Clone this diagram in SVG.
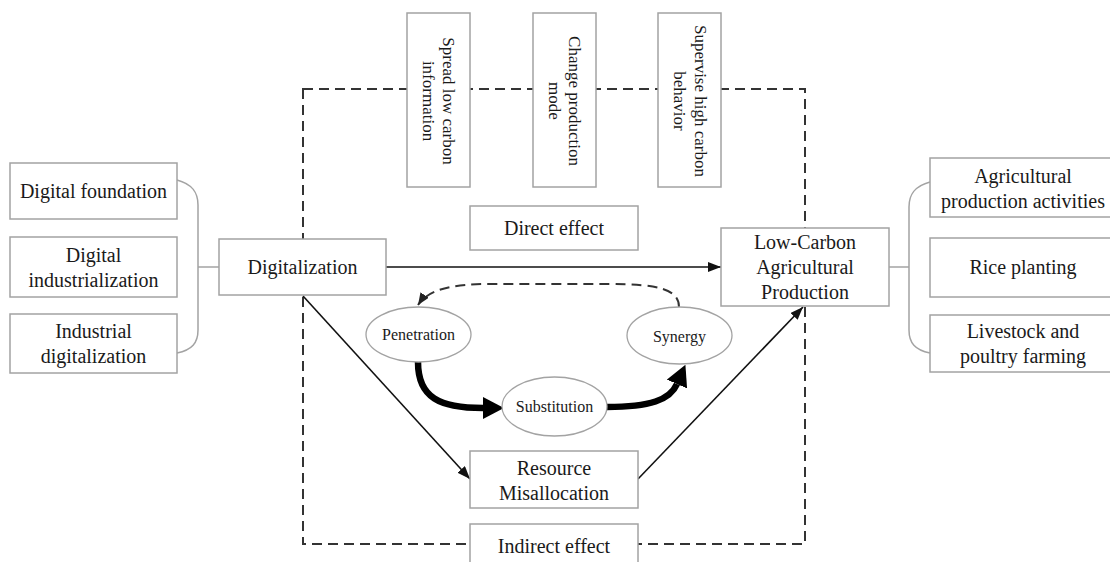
<svg xmlns="http://www.w3.org/2000/svg" width="1110" height="562" viewBox="0 0 1110 562">
<style>
text{font-family:"Liberation Serif","Times New Roman",serif;fill:#1a1a1a;text-anchor:middle;dominant-baseline:central}
.box{fill:#fff;stroke:#a3a3a3;stroke-width:1.5}
.ell{fill:#fff;stroke:#a3a3a3;stroke-width:1.3}
.t20{font-size:20px}
.t17{font-size:17px}
.t16{font-size:16px}
.ln{fill:none;stroke:#111;stroke-width:1.6}
.br{fill:none;stroke:#a3a3a3;stroke-width:1.5}
.dash{fill:none;stroke:#333;stroke-width:2;stroke-dasharray:10,6}
.thick{fill:none;stroke:#000;stroke-width:6.5}
</style>
<defs>
<marker id="ah" markerUnits="userSpaceOnUse" markerWidth="13" markerHeight="10" refX="13" refY="5" orient="auto">
<path d="M0,0 L13,5 L0,10 z" fill="#111"/>
</marker>
<marker id="ahd" markerUnits="userSpaceOnUse" markerWidth="12" markerHeight="10" refX="12" refY="5" orient="auto">
<path d="M0,0 L12,5 L0,10 z" fill="#222"/>
</marker>
<marker id="ahb" markerUnits="userSpaceOnUse" markerWidth="21" markerHeight="22" refX="0" refY="11" orient="auto">
<path d="M0,0 L21,11 L0,22 z" fill="#000"/>
</marker>
</defs>
<rect width="1110" height="562" fill="#fff"/>

<g id="connectors">
<rect class="dash" x="303" y="89" width="502" height="455"/>
<path class="br" d="M177,180 C192,184 198,192 198,205 L198,330 C198,343 192,350 177,353"/>
<path class="br" d="M198,267 L219,267"/>
<path class="br" d="M930,182 C915,186 909,194 909,207 L909,330 C909,343 915,350 930,353"/>
<path class="br" d="M889,267 L909,267"/>
<path class="ln" d="M386,267 L721,267" marker-end="url(#ah)"/>
<path class="ln" d="M303,296 L470,479" marker-end="url(#ah)"/>
<path class="ln" d="M638,479 L803,307" marker-end="url(#ah)"/>
<path class="dash" d="M679,307 C679,290 660,284 610,284 L490,284 C450,284 428,290 418,305" marker-end="url(#ahd)"/>
<path class="thick" d="M418,362 C418,398 440,408 483,408" marker-end="url(#ahb)"/>
<path class="thick" d="M607,407 C650,407 670,400 677,384" marker-end="url(#ahb)"/>
</g>

<g id="digital-foundation"><rect class="box" x="10" y="163" width="167" height="56"/><text class="t20" x="93.5" y="191">Digital foundation</text></g>
<g id="digital-industrialization"><rect class="box" x="10" y="237" width="167" height="60"/><text class="t20" x="93.5" y="255">Digital</text><text class="t20" x="93.5" y="280">industrialization</text></g>
<g id="industrial-digitalization"><rect class="box" x="10" y="314" width="167" height="59"/><text class="t20" x="93.5" y="331">Industrial</text><text class="t20" x="93.5" y="356">digitalization</text></g>

<g id="digitalization"><rect class="box" x="219" y="239" width="167" height="56"/><text class="t20" x="302.5" y="267">Digitalization</text></g>

<g id="spread"><rect class="box" x="407" y="13" width="63" height="174"/>
<g transform="translate(438.5,101) rotate(90)"><text class="t17" x="0" y="-10">Spread low carbon</text><text class="t17" x="0" y="10">information</text></g></g>
<g id="change"><rect class="box" x="533" y="13" width="63" height="174"/>
<g transform="translate(564.5,101) rotate(90)"><text class="t17" x="0" y="-10">Change production</text><text class="t17" x="0" y="10">mode</text></g></g>
<g id="supervise"><rect class="box" x="658" y="13" width="63" height="174"/>
<g transform="translate(689.5,101) rotate(90)"><text class="t17" x="0" y="-11">Supervise high carbon</text><text class="t17" x="0" y="10">behavior</text></g></g>

<g id="direct-effect"><rect class="box" x="470" y="206" width="168" height="44"/><text class="t20" x="554" y="228">Direct effect</text></g>

<g id="lcap"><rect class="box" x="721" y="228" width="168" height="78"/><text class="t20" x="805" y="242">Low-Carbon</text><text class="t20" x="805" y="267">Agricultural</text><text class="t20" x="805" y="292">Production</text></g>

<g id="agri-activities"><rect class="box" x="930" y="158" width="190" height="59"/><text class="t20" x="1023" y="176">Agricultural</text><text class="t20" x="1023" y="201">production activities</text></g>
<g id="rice"><rect class="box" x="930" y="238" width="190" height="59"/><text class="t20" x="1023" y="267">Rice planting</text></g>
<g id="livestock"><rect class="box" x="930" y="315" width="190" height="57"/><text class="t20" x="1023" y="331">Livestock and</text><text class="t20" x="1023" y="356">poultry farming</text></g>

<g id="penetration"><ellipse class="ell" cx="418.5" cy="334.5" rx="52.5" ry="27.5"/><text class="t16" x="418.5" y="334">Penetration</text></g>
<g id="synergy"><ellipse class="ell" cx="679.5" cy="335.5" rx="52.5" ry="28.5"/><text class="t16" x="679.5" y="336">Synergy</text></g>
<g id="substitution"><ellipse class="ell" cx="554.5" cy="406.5" rx="52.5" ry="29.5"/><text class="t16" x="554.5" y="406">Substitution</text></g>

<g id="resource-misallocation"><rect class="box" x="470" y="451" width="168" height="57"/><text class="t20" x="554" y="468">Resource</text><text class="t20" x="554" y="493">Misallocation</text></g>
<g id="indirect-effect"><rect class="box" x="470" y="524" width="168" height="46"/><text class="t20" x="554" y="546">Indirect effect</text></g>
</svg>
